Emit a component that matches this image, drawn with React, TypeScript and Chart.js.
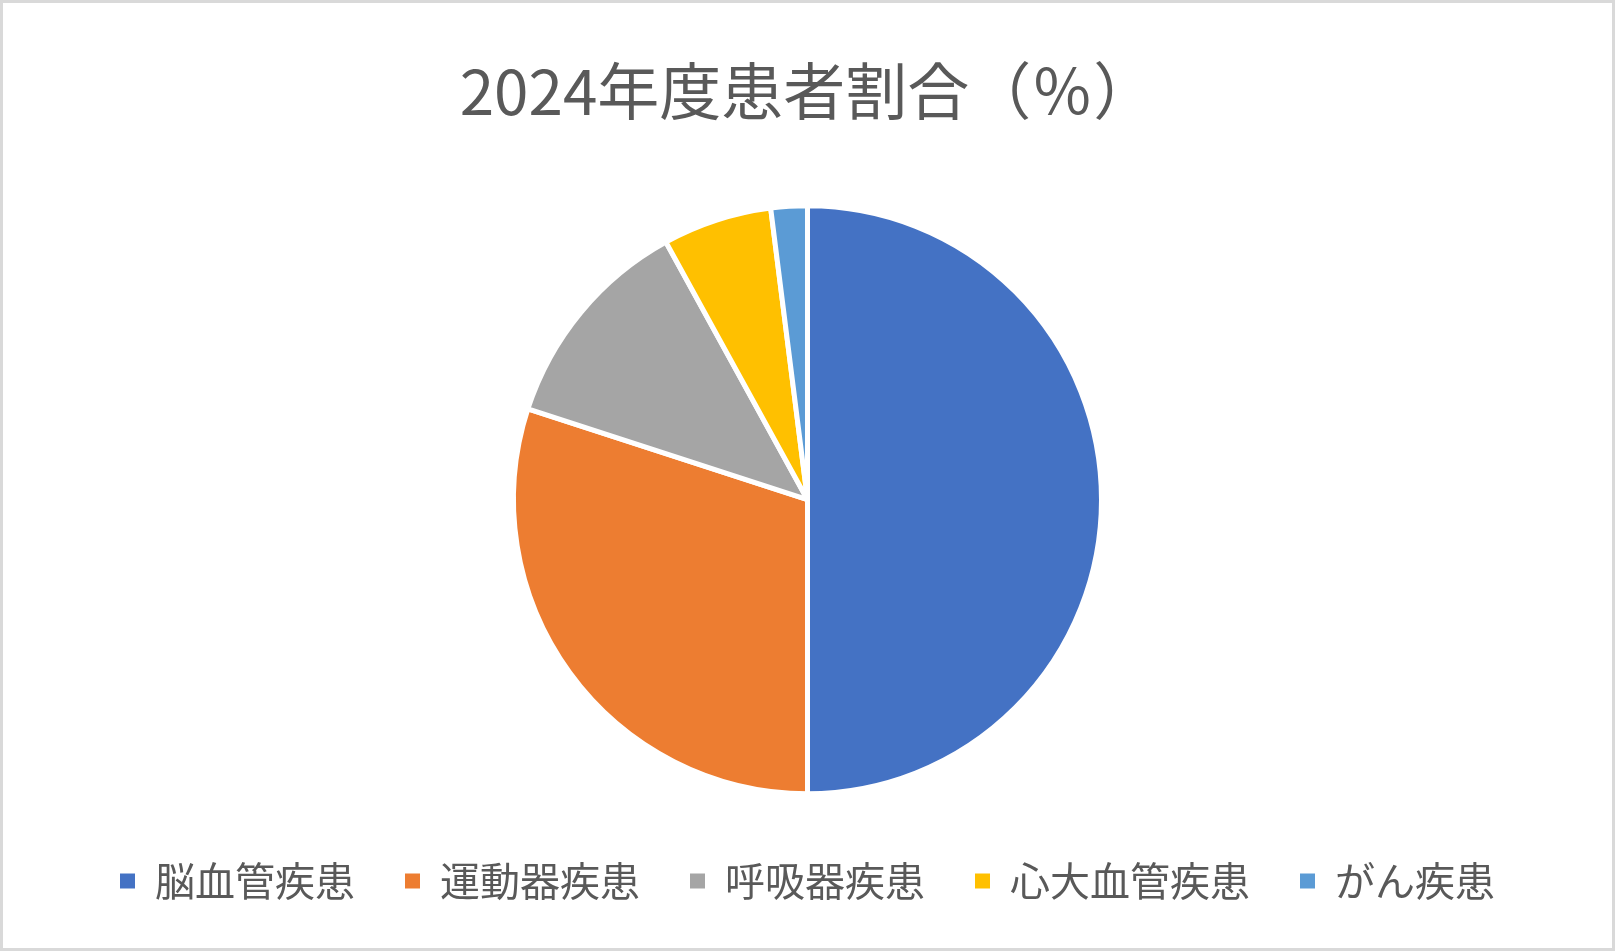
import { useEffect, useRef } from 'react';
import Chart from 'chart.js/auto';

const title = '2024年度患者割合（％）';
const categories = ['脳血管疾患', '運動器疾患', '呼吸器疾患', '心大血管疾患', 'がん疾患'];
const shares = [50, 30, 12, 6, 2];
const colors = ['#4472C4', '#ED7D31', '#A5A5A5', '#FFC000', '#5B9BD5'];

const FONT = '"Noto Sans CJK JP", "Noto Sans", sans-serif';

export default function App() {
    const canvasRef = useRef<HTMLCanvasElement>(null);
    const chartRef = useRef<Chart | null>(null);

    useEffect(() => {
        if (chartRef.current) {
            chartRef.current.destroy();
        }
        if (canvasRef.current) {
            chartRef.current = new Chart(canvasRef.current, {
                type: 'pie',
                data: {
                    labels: categories,
                    datasets: [
                        {
                            data: shares,
                            backgroundColor: colors,
                            borderColor: '#ffffff',
                            borderWidth: 5,
                        },
                    ],
                },
                options: {
                    animation: false,
                    responsive: true,
                    maintainAspectRatio: false,
                    radius: 294,
                    layout: { padding: 0 },
                    plugins: {
                        title: {
                            display: true,
                            text: title,
                            color: '#595959',
                            font: { family: FONT, size: 62, weight: 'normal', lineHeight: 1.2 },
                            padding: { top: 51, bottom: 60 },
                        },
                        legend: {
                            position: 'bottom',
                            labels: {
                                color: '#595959',
                                font: { family: FONT, size: 40, weight: 'normal' },
                                boxWidth: 15,
                                boxHeight: 15,
                                padding: 50,
                                generateLabels: (chart) =>
                                    Chart.overrides.pie.plugins.legend.labels
                                        .generateLabels(chart)
                                        .map((item) => ({ ...item, lineWidth: 0 })),
                            },
                        },
                        tooltip: { enabled: false },
                    },
                },
            });
        }
        return () => {
            if (chartRef.current) {
                chartRef.current.destroy();
                chartRef.current = null;
            }
        };
    }, []);

    return (
        <div
            style={{
                position: 'fixed',
                left: 0,
                top: 0,
                width: 1615,
                height: 951,
                boxSizing: 'border-box',
                border: '3px solid #d9d9d9',
                background: '#ffffff',
                overflow: 'hidden',
            }}
        >
            <div style={{ position: 'relative', width: '100%', height: 908 }}>
                <canvas ref={canvasRef}></canvas>
            </div>
        </div>
    );
}
